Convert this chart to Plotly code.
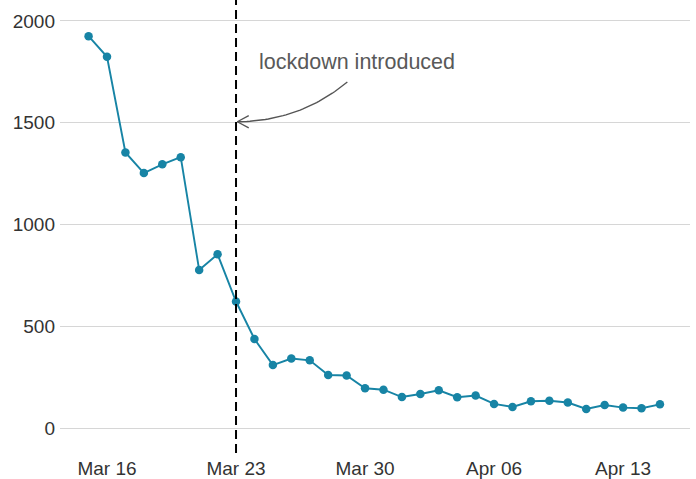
import pandas as pd
import numpy as np
import plotly.graph_objects as go

start_date = "2020-03-15"
values = [1925, 1824, 1354, 1253, 1296, 1331, 777, 854, 622, 438,
          310, 342, 333, 261, 259, 196, 189, 153, 168, 186,
          152, 160, 119, 104, 132, 135, 126, 94, 114, 101, 98, 117]
dates = pd.date_range(start_date, periods=len(values), freq="D")

lockdown_date = pd.Timestamp("2020-03-23")
annotation_text = "lockdown introduced"
y_ticks = [0, 500, 1000, 1500, 2000]
x_ticks = pd.to_datetime(["2020-03-16", "2020-03-23", "2020-03-30", "2020-04-06", "2020-04-13"])

line_color = "#1784A5"
font_family = "Liberation Sans, Arial, sans-serif"

fig = go.Figure()
fig.add_trace(go.Scatter(
    x=dates, y=values, mode="lines+markers",
    line=dict(color=line_color, width=1.9),
    marker=dict(color=line_color, size=8.5),
    showlegend=False, hoverinfo="skip",
))

# curved arrow (quadratic bezier), in days after lockdown / value units
p0 = (6.04, 1700.0)
p1 = (3.45, 1507.0)
p2 = (0.07, 1505.0)
t = np.linspace(0, 1, 40)
bx = (1 - t) ** 2 * p0[0] + 2 * (1 - t) * t * p1[0] + t ** 2 * p2[0]
by = (1 - t) ** 2 * p0[1] + 2 * (1 - t) * t * p1[1] + t ** 2 * p2[1]
curve_x = [lockdown_date + pd.Timedelta(days=float(d)) for d in bx]
curve_y = list(by)
# arrowhead arms
arm_dx, arm_dy = 0.62, 30.0
head_x = [lockdown_date + pd.Timedelta(days=p2[0] + arm_dx), lockdown_date + pd.Timedelta(days=p2[0]),
          lockdown_date + pd.Timedelta(days=p2[0] + arm_dx)]
head_y = [p2[1] + arm_dy, p2[1], p2[1] - arm_dy]
fig.add_trace(go.Scatter(
    x=curve_x + [None] + head_x, y=curve_y + [None] + head_y, mode="lines",
    line=dict(color="#555555", width=1.4), showlegend=False, hoverinfo="skip",
))

fig.add_shape(type="line", xref="x", yref="paper",
              x0=lockdown_date, x1=lockdown_date, y0=0, y1=1,
              line=dict(color="black", width=2, dash="9px,5px"))

fig.add_annotation(x=lockdown_date + pd.Timedelta(days=6.55), y=1800,
                   text=annotation_text, showarrow=False,
                   xanchor="center", yanchor="middle",
                   font=dict(family=font_family, size=21.5, color="#595959"))

x_range = [pd.Timestamp("2020-03-16") - pd.Timedelta(days=2.55),
           pd.Timestamp("2020-03-16") + pd.Timedelta(days=31.63)]

fig.update_layout(
    width=696, height=479,
    margin=dict(l=60, r=6, t=0, b=24),
    paper_bgcolor="white", plot_bgcolor="white",
    font=dict(family=font_family, size=19, color="#333333"),
    xaxis=dict(range=x_range, tickvals=x_ticks, tickformat="%b %d",
               showgrid=False, zeroline=False, showline=False, ticks="",
               ticklabelstandoff=2),
    yaxis=dict(range=[-122, 2103], tickvals=y_ticks,
               showgrid=True, gridcolor="#D6D6D6", gridwidth=1,
               zeroline=False, showline=False, ticks="", ticklabelstandoff=4),
)

fig.write_html("out.html", config={"displayModeBar": False},
               post_script="document.body.style.margin='0';document.body.style.overflow='hidden';")
